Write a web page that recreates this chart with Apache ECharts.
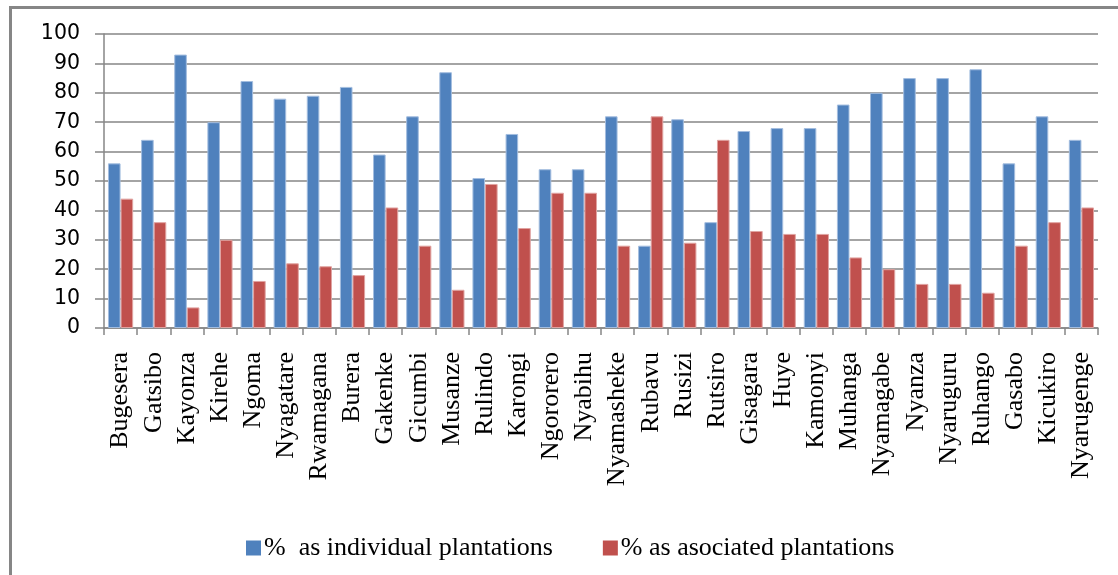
<!DOCTYPE html>
<html>
<head>
<meta charset="utf-8">
<title>Plantation types by district</title>
<script src="https://cdn.jsdelivr.net/npm/echarts@6/dist/echarts.min.js"></script>
<style>
  html, body { margin: 0; padding: 0; background: #ffffff; }
  #chart { width: 1118px; height: 575px; }
</style>
</head>
<body>
<div id="chart"></div>
<script>
// Districts (x-axis categories)
var districts = [
  'Bugesera', 'Gatsibo', 'Kayonza', 'Kirehe', 'Ngoma', 'Nyagatare', 'Rwamagana',
  'Burera', 'Gakenke', 'Gicumbi', 'Musanze', 'Rulindo', 'Karongi', 'Ngororero',
  'Nyabihu', 'Nyamasheke', 'Rubavu', 'Rusizi', 'Rutsiro', 'Gisagara', 'Huye',
  'Kamonyi', 'Muhanga', 'Nyamagabe', 'Nyanza', 'Nyaruguru', 'Ruhango', 'Gasabo',
  'Kicukiro', 'Nyarugenge'
];

// Share of plantations grown individually (%)
var individualPct = [
  56, 64, 93, 70, 84, 78, 79,
  82, 59, 72, 87, 51, 66, 54,
  54, 72, 28, 71, 36, 67, 68,
  68, 76, 80, 85, 85, 88, 56,
  72, 64
];

// Share of plantations grown in association (%)
var associatedPct = [
  44, 36, 7, 30, 16, 22, 21,
  18, 41, 28, 13, 49, 34, 46,
  46, 28, 72, 29, 64, 33, 32,
  32, 24, 20, 15, 15, 12, 28,
  36, 41
];

var seriesNames = ['%  as individual plantations', '% as asociated plantations'];

// Value-axis range
var yMin = 0, yMax = 100, yStep = 10;

var gridGray = '#868686';
var serifFont = '"Liberation Serif", "Times New Roman", serif';
var sansFont = '"DejaVu Sans", sans-serif';

var chart = echarts.init(document.getElementById('chart'), null, { renderer: 'canvas' });

chart.setOption({
  backgroundColor: '#ffffff',
  animation: false,
  graphic: [{
    type: 'rect',
    left: 8, top: 5,
    shape: { width: 1300, height: 800 },
    style: { fill: 'none', stroke: gridGray, lineWidth: 3 },
    z: -1
  }],
  grid: { left: 104, right: 20, top: 34, bottom: 247, containLabel: false },
  legend: {
    left: 241,
    top: 530,
    itemWidth: 15,
    itemHeight: 15,
    itemGap: 50,
    icon: 'rect',
    itemStyle: { borderWidth: 0 },
    textStyle: { fontFamily: serifFont, fontSize: 26, color: '#000000', padding: [0, 0, 0, -2] },
    data: seriesNames
  },
  xAxis: {
    type: 'category',
    data: districts,
    axisLine: { show: true, lineStyle: { color: gridGray, width: 1.5 } },
    axisTick: { show: true, length: 7, lineStyle: { color: gridGray, width: 1.5 } },
    axisLabel: {
      interval: 0,
      rotate: 90,
      margin: 24,
      fontFamily: serifFont,
      fontSize: 26,
      color: '#000000'
    }
  },
  yAxis: {
    type: 'value',
    min: yMin,
    max: yMax,
    interval: yStep,
    axisLine: { show: true, lineStyle: { color: gridGray, width: 1.5 } },
    axisTick: { show: true, length: 9, lineStyle: { color: gridGray, width: 1.5 } },
    axisLabel: { fontFamily: sansFont, fontSize: 20.5, color: '#000000', margin: 24 },
    splitLine: { show: true, lineStyle: { color: gridGray, width: 1.5 } }
  },
  series: [
    {
      name: seriesNames[0],
      type: 'bar',
      data: individualPct,
      barGap: '0%',
      barCategoryGap: '24%',
      itemStyle: { color: '#4F81BD', borderColor: '#a3bddf', borderWidth: 1 }
    },
    {
      name: seriesNames[1],
      type: 'bar',
      data: associatedPct,
      barGap: '0%',
      barCategoryGap: '24%',
      itemStyle: { color: '#C0504D', borderColor: '#e0a3a1', borderWidth: 1 }
    }
  ]
});
</script>
</body>
</html>
